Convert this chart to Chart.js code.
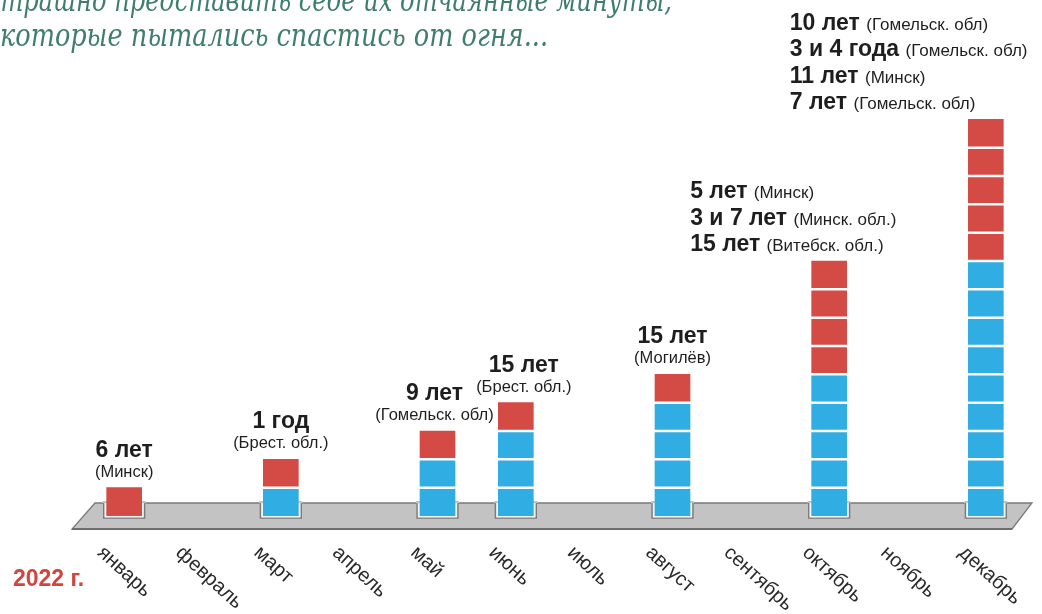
<!DOCTYPE html>
<html>
<head>
<meta charset="utf-8">
<script src="https://cdn.jsdelivr.net/npm/chart.js@4"></script>
<style>
  html, body { margin: 0; padding: 0; background: #fff; }
  #wrap { width: 1042px; height: 614px; position: relative; }
</style>
</head>
<body>
<div id="wrap"><canvas id="chart"></canvas></div>
<script>
// Months of 2022
const months = ['январь', 'февраль', 'март', 'апрель', 'май', 'июнь',
                'июль', 'август', 'сентябрь', 'октябрь', 'ноябрь', 'декабрь'];
// children already counted before the month (blue squares)
const previous = [0, null, 1, null, 2, 3, null, 4, null, 5, null, 9];
// children lost in the month (red squares)
const added = [1, null, 1, null, 1, 1, null, 1, null, 4, null, 5];
// ages and regions written above each bar
const ages = [['6 лет'], [], ['1 год'], [], ['9 лет'], ['15 лет'], [], ['15 лет'], [],
              ['5 лет', '3 и 7 лет', '15 лет'], [],
              ['10 лет', '3 и 4 года', '11 лет', '7 лет']];
const regions = [['(Минск)'], [], ['(Брест. обл.)'], [], ['(Гомельск. обл)'], ['(Брест. обл.)'], [], ['(Могилёв)'], [],
                 ['(Минск)', '(Минск. обл.)', '(Витебск. обл.)'], [],
                 ['(Гомельск. обл)', '(Гомельск. обл)', '(Минск)', '(Гомельск. обл)']];
const yearLabel = '2022 г.';
const headLines = ['Страшно представить себе их отчаянные минуты,',
                   'которые пытались спастись от огня...'];

const BLUE = '#30ade2';
const RED = '#d44b46';
const SANS = '"Liberation Sans", Arial, sans-serif';

function total(i) {
    return (previous[i] || 0) + (added[i] || 0);
}

// grey platform under the bars, with a notch for every bar
const platform = {
    id: 'platform',
    beforeDatasetsDraw(chart) {
        const ctx = chart.ctx;
        const x = chart.scales.x, y = chart.scales.y;
        const base = y.getPixelForValue(0);
        const top = base - 13, bot = base + 13;
        const l = chart.chartArea.left, r = chart.chartArea.right;
        ctx.save();
        ctx.beginPath();
        ctx.moveTo(l + 10, top);
        ctx.lineTo(r + 7, top);
        ctx.lineTo(r - 13, bot);
        ctx.lineTo(l - 13, bot);
        ctx.closePath();
        ctx.fillStyle = '#c3c3c3';
        ctx.fill();
        ctx.strokeStyle = '#7a7a7a';
        ctx.lineWidth = 1.3;
        ctx.stroke();
        ctx.beginPath();
        ctx.moveTo(r - 13, bot);
        ctx.lineTo(l - 13, bot);
        ctx.lineWidth = 2.2;
        ctx.strokeStyle = '#6e6e6e';
        ctx.stroke();
        // notches
        const meta = chart.getDatasetMeta(0);
        months.forEach((m, i) => {
            if (!total(i)) return;
            const bar = meta.data[i];
            const cx = x.getPixelForValue(i);
            const hw = (bar ? bar.width : 35) / 2 + 3;
            ctx.fillStyle = '#c3c3c3';
            ctx.fillRect(cx - hw - 1, top - 2, hw * 2 + 2, 3);
            ctx.beginPath();
            ctx.moveTo(cx - hw, top);
            ctx.lineTo(cx - hw, base + 2);
            ctx.lineTo(cx + hw, base + 2);
            ctx.lineTo(cx + hw, top);
            ctx.strokeStyle = '#7a7a7a';
            ctx.lineWidth = 1.3;
            ctx.stroke();
            ctx.fillStyle = '#f4f4f4';
            ctx.fillRect(cx - hw + 1, top, hw * 2 - 2, base - top + 1.5);
        });
        ctx.restore();
    },
    afterDatasetsDraw(chart) {
        const ctx = chart.ctx;
        const x = chart.scales.x, y = chart.scales.y;
        const meta = chart.getDatasetMeta(0);
        ctx.save();
        // white gaps between the squares
        ctx.strokeStyle = '#ffffff';
        ctx.lineWidth = 2.5;
        months.forEach((m, i) => {
            const n = total(i);
            if (!n) return;
            const cx = x.getPixelForValue(i);
            const hw = (meta.data[i] ? meta.data[i].width : 35) / 2;
            for (let k = 1; k < n; k++) {
                const py = y.getPixelForValue(k);
                ctx.beginPath();
                ctx.moveTo(cx - hw - 1, py);
                ctx.lineTo(cx + hw + 1, py);
                ctx.stroke();
            }
        });
        // labels above the bars
        ctx.fillStyle = '#1e1e1e';
        ctx.textBaseline = 'alphabetic';
        const blockShift = { 9: -139, 11: -196 };
        const nudge = { 4: -3, 5: 8 };
        months.forEach((m, i) => {
            const n = total(i);
            if (!n || !ages[i].length) return;
            const cx = x.getPixelForValue(i) + (nudge[i] || 0);
            const barTop = y.getPixelForValue(n);
            if (ages[i].length === 1) {
                ctx.textAlign = 'center';
                ctx.font = 'bold 23px ' + SANS;
                ctx.fillText(ages[i][0], cx, barTop - 31);
                ctx.font = '16.5px ' + SANS;
                ctx.fillText(regions[i][0], cx, barTop - 11);
            } else {
                ctx.textAlign = 'left';
                const lx = cx + (blockShift[i] || -150);
                const cnt = ages[i].length;
                ages[i].forEach((a, k) => {
                    const by = barTop - 10 - (cnt - 1 - k) * 26.5;
                    ctx.font = 'bold 23px ' + SANS;
                    ctx.fillText(a, lx, by);
                    const w = ctx.measureText(a + ' ').width;
                    ctx.font = '17px ' + SANS;
                    ctx.fillText(regions[i][k], lx + w, by);
                });
            }
        });
        // month names, slanted downwards
        ctx.font = '20px ' + SANS;
        ctx.fillStyle = '#2a2a2a';
        ctx.textAlign = 'left';
        ctx.textBaseline = 'middle';
        months.forEach((m, i) => {
            const cx = x.getPixelForValue(i);
            ctx.save();
            ctx.translate(cx - 24, 550);
            ctx.rotate(Math.PI * 0.235);
            ctx.fillText(m, 0, 0);
            ctx.restore();
        });
        // year
        ctx.font = 'bold 23px ' + SANS;
        ctx.fillStyle = '#d4443f';
        ctx.textBaseline = 'alphabetic';
        ctx.fillText(yearLabel, 13, 586);
        // handwritten heading
        ctx.fillStyle = '#3f7e6b';
        ctx.font = 'italic 32px "DejaVu Serif", serif';
        const fits = [[-18, 11, 690], [0, 46, 548]];
        headLines.forEach((t, k) => {
            const w = ctx.measureText(t).width;
            ctx.save();
            ctx.translate(fits[k][0], fits[k][1]);
            ctx.scale(fits[k][2] / w, 1);
            ctx.fillText(t, 0, 0);
            ctx.restore();
        });
        ctx.restore();
    }
};

new Chart(document.getElementById('chart'), {
    type: 'bar',
    data: {
        labels: months,
        datasets: [
            { label: 'ранее', data: previous, backgroundColor: BLUE, borderWidth: 0 },
            { label: 'за месяц', data: added, backgroundColor: RED, borderWidth: 0 }
        ]
    },
    options: {
        responsive: true,
        maintainAspectRatio: false,
        animation: false,
        events: [],
        barThickness: 35,
        layout: { padding: { left: 85, right: 17, top: 6, bottom: 98 } },
        plugins: { legend: { display: false }, tooltip: { enabled: false } },
        scales: {
            x: { stacked: true, display: false },
            y: { stacked: true, display: false, min: 0, max: 18 }
        }
    },
    plugins: [platform]
});
</script>
</body>
</html>
